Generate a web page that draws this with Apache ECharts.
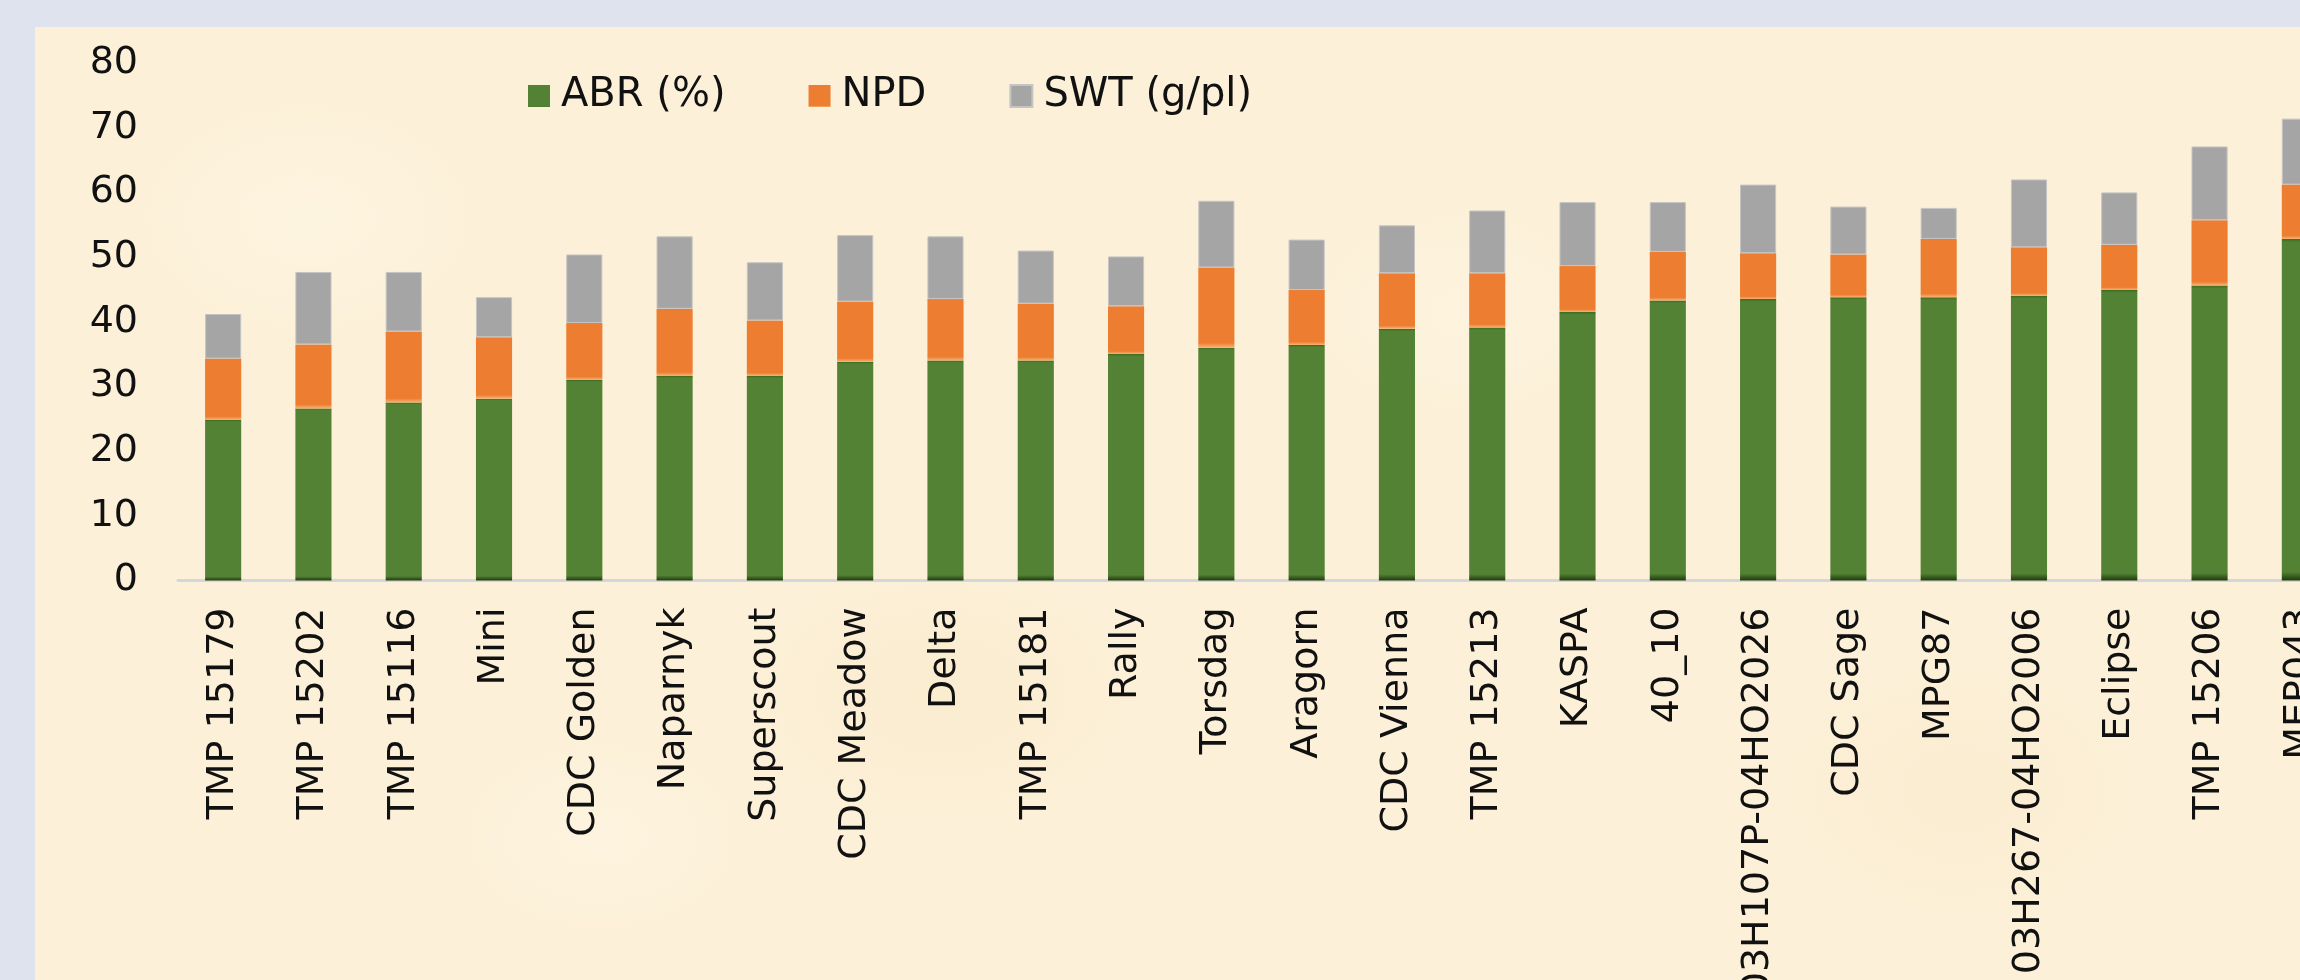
<!DOCTYPE html>
<html>
<head>
<meta charset="utf-8">
<title>ABR / NPD / SWT</title>
<script src="https://cdn.jsdelivr.net/npm/echarts@6/dist/echarts.min.js"></script>
<style>
    html, body {
        margin: 0;
        padding: 0;
        width: 2300px;
        height: 980px;
        overflow: hidden;
        background: #dfe3ee;
    }
    #main {
        position: absolute;
        left: 35px;
        top: 27px;
        width: 2265px;
        height: 953px;
        background-color: #fcf0d8;
        background-image:
            radial-gradient(ellipse 260px 180px at 12% 20%, rgba(255, 249, 232, 0.5), rgba(255, 249, 232, 0) 70%),
            radial-gradient(ellipse 300px 200px at 40% 70%, rgba(245, 228, 190, 0.35), rgba(245, 228, 190, 0) 70%),
            radial-gradient(ellipse 240px 160px at 63% 30%, rgba(255, 248, 230, 0.45), rgba(255, 248, 230, 0) 70%),
            radial-gradient(ellipse 280px 200px at 85% 80%, rgba(246, 230, 195, 0.35), rgba(246, 230, 195, 0) 70%),
            radial-gradient(ellipse 220px 150px at 25% 85%, rgba(255, 249, 232, 0.45), rgba(255, 249, 232, 0) 70%);
    }
</style>
</head>
<body>
<div id="main"></div>
<script>
// 品种名称
var categories = ['TMP 15179', 'TMP 15202', 'TMP 15116', 'Mini', 'CDC Golden', 'Naparnyk',
    'Superscout', 'CDC Meadow', 'Delta', 'TMP 15181', 'Rally', 'Torsdag', 'Aragorn',
    'CDC Vienna', 'TMP 15213', 'KASPA', '40_10', '03H107P-04HO2026', 'CDC Sage', 'MPG87',
    '03H267-04HO2006', 'Eclipse', 'TMP 15206', 'MEP043'];

// 堆叠的三段数值
var abr = [24.8, 26.6, 27.5, 28.1, 31.0, 31.6, 31.6, 33.8, 34.0, 34.0, 35.0, 36.0, 36.4,
    38.9, 39.1, 41.5, 43.3, 43.5, 43.8, 43.8, 44.0, 44.9, 45.6, 52.8];
var npd = [9.5, 9.9, 11.0, 9.5, 8.8, 10.4, 8.6, 9.3, 9.5, 8.8, 7.4, 12.4, 8.5,
    8.6, 8.4, 7.1, 7.5, 7.1, 6.6, 9.0, 7.5, 7.0, 10.1, 8.4];
var swt = [6.9, 11.2, 9.2, 6.2, 10.6, 11.2, 9.0, 10.3, 9.7, 8.2, 7.7, 10.3, 7.8,
    7.4, 9.7, 9.9, 7.7, 10.6, 7.4, 4.8, 10.5, 8.1, 11.4, 10.2];

var seriesNames = ['ABR (%)', 'NPD', 'SWT (g/pl)'];

var font = 'DejaVu Sans';

var myChart = echarts.init(document.getElementById('main'));

var option = {
    backgroundColor: 'transparent',
    animation: false,
    color: ['#548235', '#ed7d31', '#a5a5a5'],
    legend: {
        left: 493,
        top: 49,
        padding: 0,
        itemWidth: 22,
        itemHeight: 22,
        itemGap: 83,
        icon: 'rect',
        textStyle: {
            fontFamily: font,
            fontSize: 40,
            color: '#111',
            padding: [0, 0, 0, 6]
        },
        data: seriesNames
    },
    // 最后一根柱子被右边裁掉，所以 grid 伸出画布
    grid: {
        left: 143,
        right: -45,
        top: 36,
        bottom: 399.5,
        containLabel: false,
        outerBoundsMode: 'none'
    },
    xAxis: {
        type: 'category',
        data: categories,
        axisTick: {show: false},
        axisLine: {
            lineStyle: {color: '#d3d6dc', width: 3}
        },
        axisLabel: {
            interval: 0,
            rotate: 90,
            margin: 27,
            fontFamily: font,
            fontSize: 38,
            color: '#111'
        }
    },
    yAxis: {
        type: 'value',
        min: 0,
        max: 80,
        interval: 10,
        axisLine: {show: false},
        axisTick: {show: false},
        splitLine: {show: false},
        axisLabel: {
            margin: 40,
            fontFamily: font,
            fontSize: 38,
            color: '#111'
        }
    },
    series: [
        {
            name: seriesNames[0],
            type: 'bar',
            stack: 'total',
            barWidth: '40%',
            data: abr,
            itemStyle: {
                color: new echarts.graphic.LinearGradient(0, 0, 0, 1, [
                    {offset: 0, color: '#3d6a22'},
                    {offset: 0.01, color: '#548235'},
                    {offset: 0.975, color: '#548235'},
                    {offset: 1, color: '#1e3a0b'}
                ])
            }
        },
        {
            name: seriesNames[1],
            type: 'bar',
            stack: 'total',
            data: npd,
            itemStyle: {
                color: new echarts.graphic.LinearGradient(0, 0, 0, 1, [
                    {offset: 0, color: '#ed7d31'},
                    {offset: 0.94, color: '#ed7d31'},
                    {offset: 1, color: '#f8b472'}
                ])
            }
        },
        {
            name: seriesNames[2],
            type: 'bar',
            stack: 'total',
            data: swt,
            itemStyle: {
                color: '#a5a5a5',
                borderColor: '#c4c4c4',
                borderWidth: 1
            }
        }
    ]
};

myChart.setOption(option);
</script>
</body>
</html>
